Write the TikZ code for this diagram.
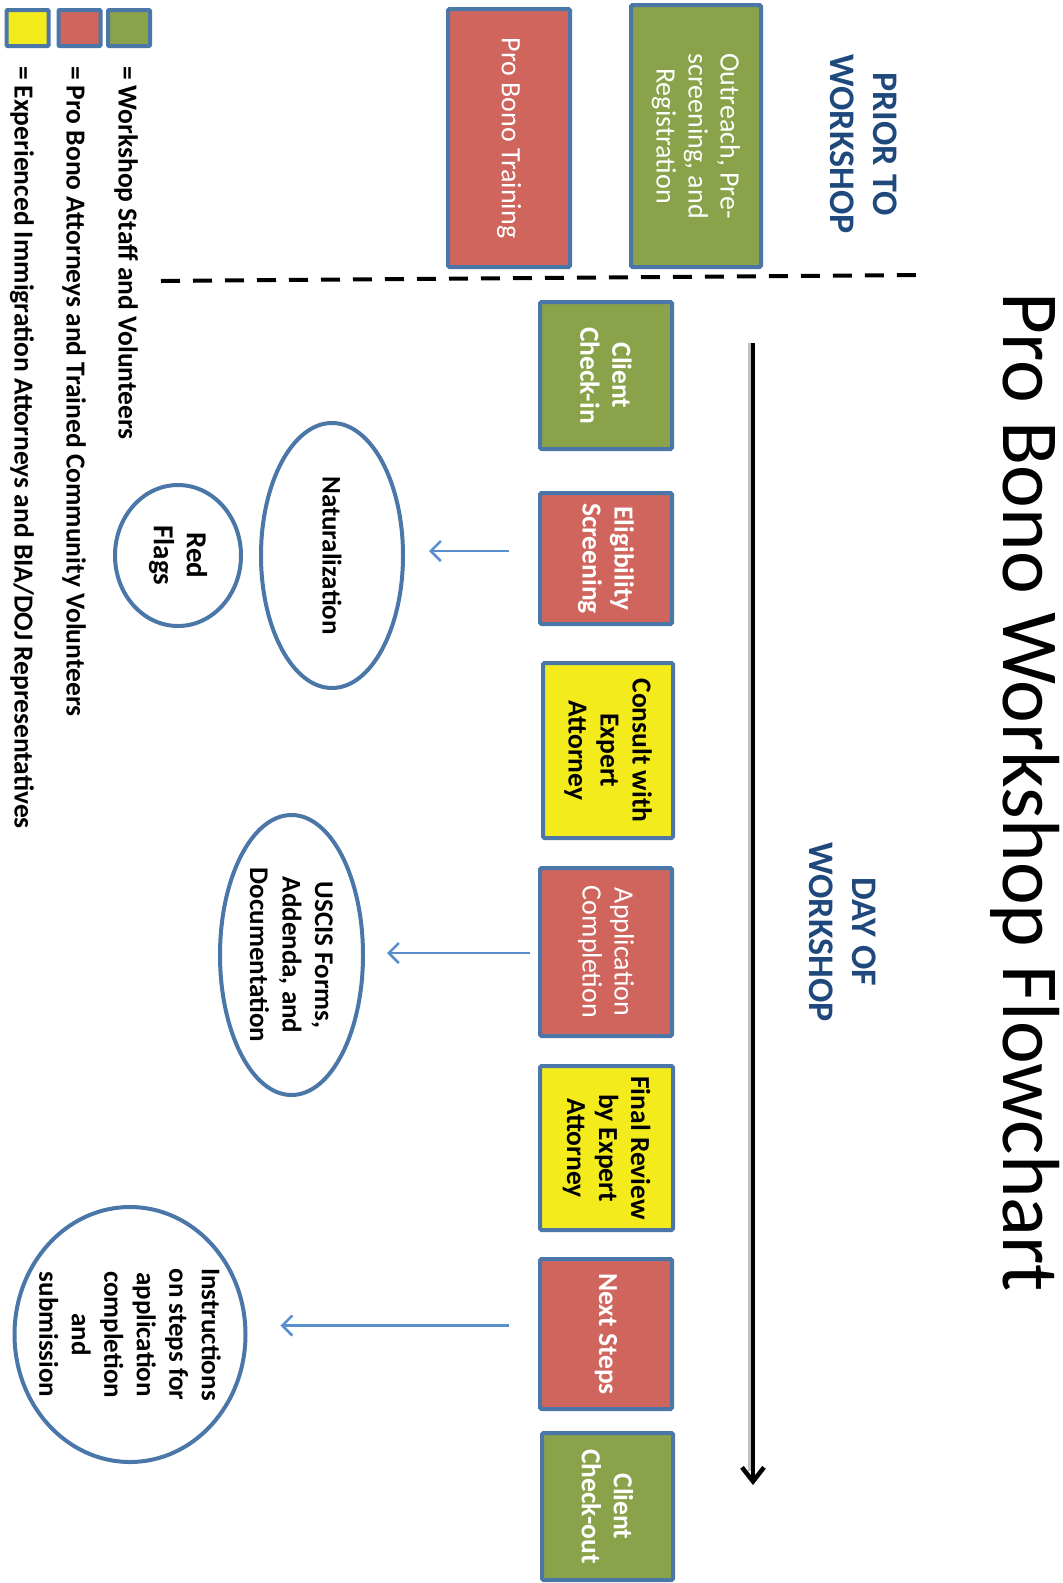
\documentclass[tikz,border=0pt]{standalone}
\usepackage{fontspec}
\setmainfont{Carlito}
\usetikzlibrary{arrows.meta,shapes.geometric,calc}
\definecolor{grn}{HTML}{8AA34A}
\definecolor{rd}{HTML}{D0655E}
\definecolor{ylw}{HTML}{F4EB1C}
\definecolor{bdr}{HTML}{4A76A8}
\definecolor{hdr}{HTML}{1F497D}
\definecolor{arw}{HTML}{5A8FCE}
\newcommand{\myfs}[2]{\fontsize{#1pt}{#2pt}\selectfont}
\begin{document}
\begin{tikzpicture}[x=1pt,y=-1pt,
  every node/.style={inner sep=0pt, outer sep=0pt},
  box/.style={draw=bdr, line width=4pt, rounded corners=1.5pt, rotate=-90, align=center, font=\myfs{28}{32}},
  boldtext/.style={font=\bfseries\myfs{27.5}{32}},
  gbox/.style={box, fill=grn, text=white},
  rbox/.style={box, fill=rd, text=white},
  ybox/.style={box, fill=ylw, text=black},
  oval/.style={draw=bdr, line width=4pt, ellipse},
  ovaltext/.style={rotate=-90, align=center, font=\bfseries\myfs{27}{32.5}},
  head/.style={rotate=-90, align=center, text=hdr, font=\bfseries\myfs{36}{43}},
  legsq/.style={draw=bdr, line width=4pt, rounded corners=1pt, minimum width=42pt, minimum height=36pt},
  legtext/.style={rotate=-90, anchor=west, font=\bfseries\myfs{27.5}{31}},
  flow/.style={line width=2.5pt, draw=arw, -{Straight Barb[length=10pt,width=20pt]}},
  timeline/.style={line width=4.5pt, -{Straight Barb[length=14pt,width=22pt]}}
]
\useasboundingbox (0,0) rectangle (1063,1583);

% title and headings
\node[rotate=-90, font=\myfs{81}{96}] (title) at (1025,792) {Pro Bono Workshop Flowchart};
\node[head] (prior) at (864,144) {PRIOR TO\\WORKSHOP};
\node[head] (day) at (843,932) {DAY OF\\WORKSHOP};

% prior boxes
\node[gbox, minimum width=262pt, minimum height=130pt] (outreach) at (696,136) {Outreach, Pre-\\screening, and\\Registration};
\node[rbox, minimum width=258pt, minimum height=122pt] (training) at (509,138) {Pro Bono Training};

% divider
\coordinate (dl0) at (161,281);
\coordinate (dl1) at (920,275);
\draw[line width=4pt, dash pattern=on 19pt off 13pt] (dl0) -- (dl1);

% timeline
\coordinate (tl0) at (753,343);
\coordinate (tl1) at (753,1485);
\draw[line width=4.5pt, black!25] ([xshift=-3pt]tl0) -- ([xshift=-3pt,yshift=14pt]tl1);
\draw[timeline] (tl0) -- (tl1);

% day boxes
\node[gbox, boldtext, minimum width=147pt, minimum height=132pt] (checkin) at (606,375.5) {Client\\Check-in};
\node[rbox, boldtext, minimum width=131pt, minimum height=132pt] (elig) at (606,558.5) {Eligibility\\Screening};
\node[ybox, boldtext, minimum width=175pt, minimum height=130pt] (consult) at (608,750.5) {Consult with\\Expert\\Attorney};
\node[rbox, minimum width=168pt, minimum height=132pt] (appl) at (606,952) {Application\\Completion};
\node[ybox, boldtext, minimum width=164pt, minimum height=133pt] (final) at (606.5,1148) {Final Review\\by Expert\\Attorney};
\node[rbox, boldtext, minimum width=150pt, minimum height=132pt] (next) at (606,1334) {Next Steps};
\node[gbox, boldtext, minimum width=147pt, minimum height=131pt] (checkout) at (607.5,1506.5) {Client\\Check-out};

% ovals
\node[oval, minimum width=142pt, minimum height=265pt] (nat) at (332,555.5) {};
\node[ovaltext] (natT) at (nat.center) {Naturalization};
\node[oval, minimum width=126pt, minimum height=141pt] (rf) at (178,555.5) {};
\node[ovaltext, font=\bfseries\myfs{29}{33}] (rfT) at (rf.center) {Red\\Flags};
\node[oval, minimum width=143pt, minimum height=280pt] (uscis) at (291.5,955) {};
\node[ovaltext] (uscisT) at (uscis.center) {USCIS Forms,\\Addenda, and\\Documentation};
\node[oval, minimum width=231pt, minimum height=255pt] (inst) at (130,1334.5) {};
\node[ovaltext] (instT) at (inst.center) {Instructions\\on steps for\\application\\completion\\and\\submission};

% flow arrows
\draw[flow, shorten <=31pt, shorten >=26pt] ($(elig.south |- nat.east)+(0,-4.5)$) -- ($(nat.east)+(0,-4.5)$);
\draw[flow, shorten <=10pt, shorten >=24pt] ($(appl.south |- uscis.east)+(0,-2)$) -- ($(uscis.east)+(0,-2)$);
\draw[flow, shorten <=31pt, shorten >=35pt] ($(next.south |- inst.east)+(0,-9)$) -- ($(inst.east)+(0,-9)$);

% legend
\node[legsq, fill=ylw] (ly) at (27.5,28) {};
\node[legsq, fill=rd] (lr) at (79.5,28) {};
\node[legsq, fill=grn] (lg) at (129,28) {};
\node[legtext] (lgT) at (126,66) {= Workshop Staff and Volunteers};
\node[legtext] (lrT) at (74,66) {= Pro Bono Attorneys and Trained Community Volunteers};
\node[legtext] (lyT) at (22,66) {= Experienced Immigration Attorneys and BIA/DOJ Representatives};
\end{tikzpicture}
\end{document}
